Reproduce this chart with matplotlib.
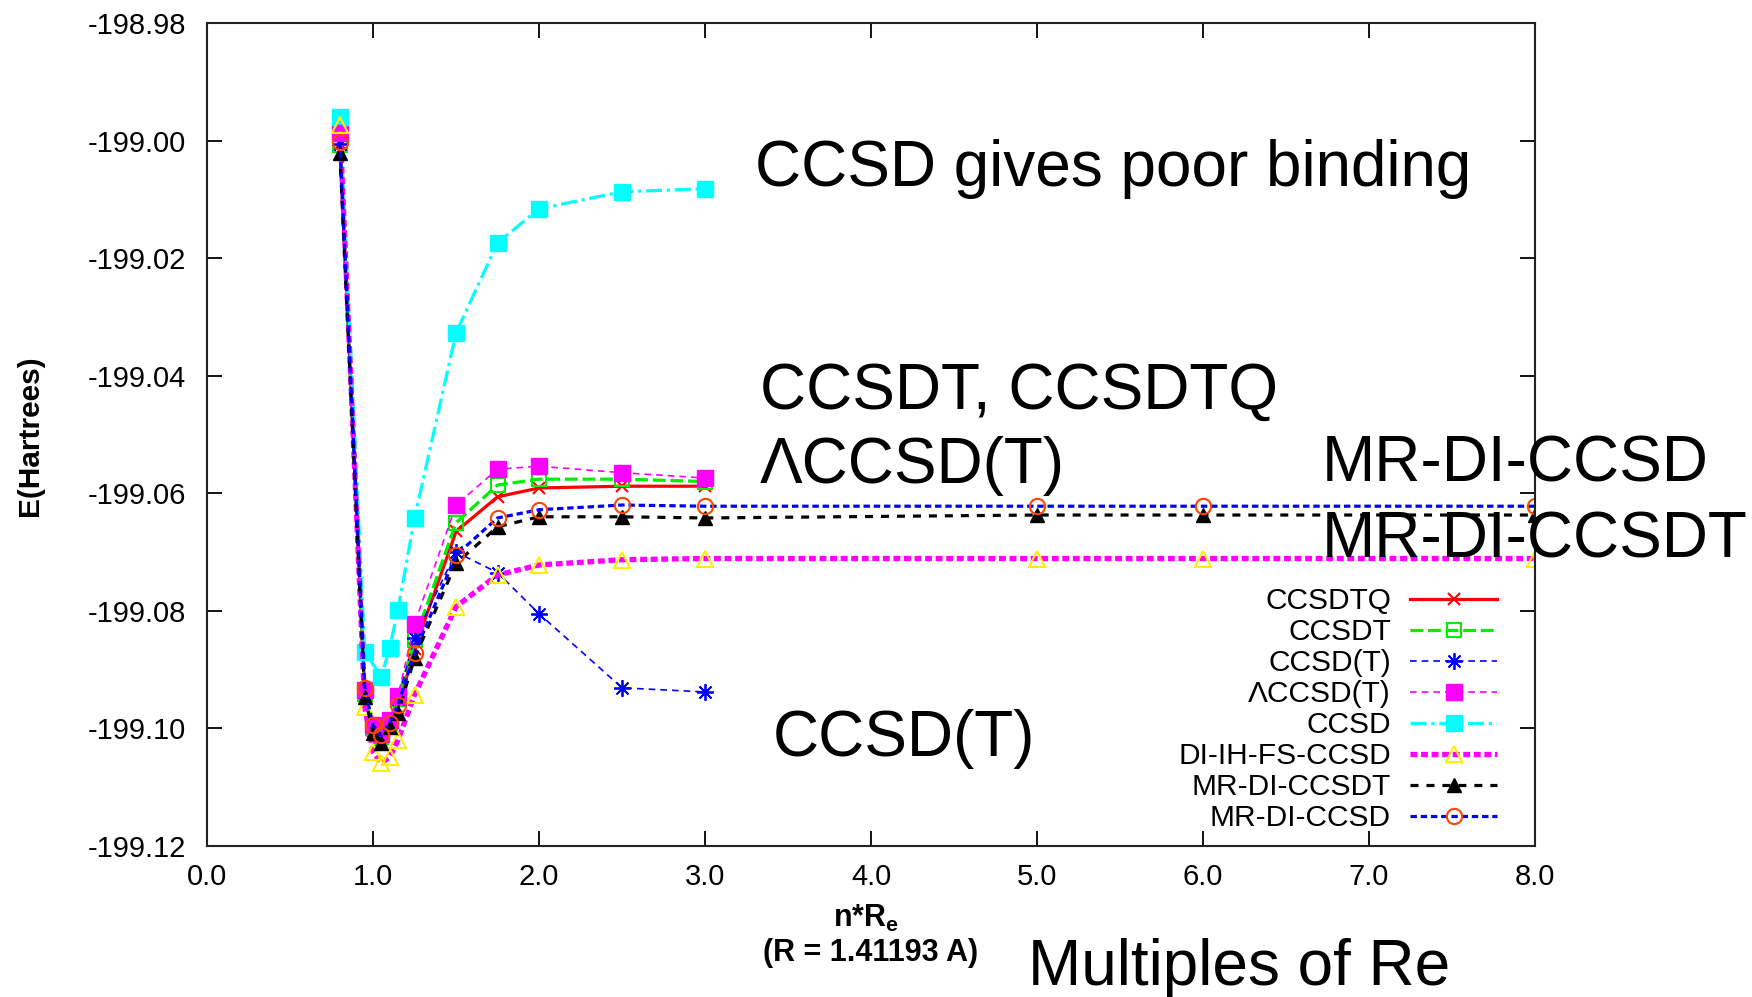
import matplotlib
matplotlib.use("Agg")
import matplotlib.pyplot as plt

plt.rcParams['font.family'] = ['Liberation Sans', 'DejaVu Sans']
plt.rcParams['mathtext.fontset'] = 'custom'
plt.rcParams['mathtext.rm'] = 'Liberation Sans'
plt.rcParams['mathtext.bf'] = 'Liberation Sans:bold'

# bond stretch as multiples of Re
x_short = [0.8, 0.95, 1.0, 1.05, 1.1, 1.15, 1.25, 1.5, 1.75, 2.0, 2.5, 3.0]
x_ccsd = [0.8, 0.95, 1.05, 1.1, 1.15, 1.25, 1.5, 1.75, 2.0, 2.5, 3.0]
x_long = [0.8, 0.95, 1.0, 1.05, 1.1, 1.15, 1.25, 1.5, 1.75, 2.0, 2.5, 3.0, 5.0, 6.0, 8.0]

# energies (Hartrees)
e_ccsdtq = [-199.0005, -199.0945, -199.1005, -199.1020, -199.0995, -199.0965, -199.0865,
            -199.0665, -199.0606, -199.0591, -199.0588, -199.0588]
e_ccsdt = [-199.0007, -199.0942, -199.1000, -199.1015, -199.0990, -199.0950, -199.0850,
           -199.0650, -199.0586, -199.0576, -199.0576, -199.0580]
e_ccsd_t = [-199.0005, -199.0940, -199.0998, -199.1012, -199.0985, -199.0950, -199.0846,
            -199.0700, -199.0735, -199.0805, -199.0931, -199.0938]
e_lccsd_t = [-198.9987, -199.0935, -199.0995, -199.1010, -199.0985, -199.0945, -199.0822,
             -199.0620, -199.0559, -199.0554, -199.0565, -199.0574]
e_ccsd = [-198.9960, -199.0870, -199.0912, -199.0863, -199.0798, -199.0642, -199.0327,
          -199.0174, -199.0116, -199.0087, -199.0082]
e_di_ih = [-198.9973, -199.0963, -199.1040, -199.1059, -199.1049, -199.1020, -199.0943,
           -199.0793, -199.0739, -199.0722, -199.0713, -199.0711, -199.0711, -199.0711, -199.0711]
e_mr_ccsdt = [-199.0021, -199.0946, -199.1008, -199.1025, -199.0997, -199.0974, -199.0880,
              -199.0719, -199.0657, -199.0640, -199.0640, -199.0642, -199.0637, -199.0637, -199.0637]
e_mr_ccsd = [-199.0002, -199.0931, -199.0995, -199.1012, -199.0990, -199.0960, -199.0872,
             -199.0705, -199.0642, -199.0628, -199.0620, -199.0622, -199.0622, -199.0622, -199.0622]

y_ticks = [-199.12, -199.10, -199.08, -199.06, -199.04, -199.02, -199.00, -198.98]
x_ticks = [0, 1, 2, 3, 4, 5, 6, 7, 8]

fig = plt.figure(figsize=(17.52, 9.97), dpi=100)
ax = fig.add_axes([0.1182, 0.1515, 0.7579, 0.8254])

ax.plot(x_short, e_ccsdtq, color='#ff0000', lw=2.3, marker='x', ms=9, mew=1.5,
        label='CCSDTQ')
ax.plot(x_short, e_ccsdt, color='#00ee00', lw=2.3, dashes=(4, 1.5), marker='s', ms=10,
        mfc='none', mec='#00ee00', mew=1.5, label='CCSDT')
ax.plot(x_short, e_ccsd_t, color='#0000ff', lw=1.2, dashes=(4, 3), marker=(8, 2, 0), ms=12,
        mew=1.3, label='CCSD(T)')
ax.plot(x_short, e_lccsd_t, color='#ff00ff', lw=1.2, dashes=(4, 3), marker='s', ms=12,
        label='\u039bCCSD(T)')
ax.plot(x_ccsd, e_ccsd, color='#00ffff', lw=2.3, dashes=(5, 1.5, 1, 1.5), marker='s', ms=12,
        label='CCSD')
ax.plot(x_long, e_di_ih, color='#ff00ff', lw=3.8, dashes=(1.3, 0.7), marker='^', ms=11,
        mfc='none', mec='#ffee00', mew=1.5, label='DI-IH-FS-CCSD')
ax.plot(x_long, e_mr_ccsdt, color='black', lw=2.3, dashes=(2.5, 2.5), marker='^', ms=10,
        label='MR-DI-CCSDT')
ax.plot(x_long, e_mr_ccsd, color='#0000ff', lw=2.3, dashes=(2, 1.2), marker='o', ms=11,
        mfc='none', mec='#ff4500', mew=1.5, label='MR-DI-CCSD')

ax.set_xlim(0, 8)
ax.set_ylim(-199.12, -198.98)
ax.set_xticks(x_ticks)
ax.set_xticklabels(['%.1f' % v for v in x_ticks])
ax.set_yticks(y_ticks)
ax.set_yticklabels(['%.2f' % v for v in y_ticks])
ax.tick_params(direction='in', length=11, width=1.3, top=True, right=True,
               labelsize=21)
ax.tick_params(axis='y', pad=15)
ax.tick_params(axis='x', pad=12)
for sp in ax.spines.values():
    sp.set_linewidth(1.5)
    sp.set_color('#222222')

leg = ax.legend(loc='lower right', bbox_to_anchor=(0.9714, 0.017), frameon=False,
                markerfirst=False, numpoints=1, fontsize=21.5, handlelength=2.9,
                handletextpad=0.65, labelspacing=0.1, borderpad=0, borderaxespad=0)

# axis labels
fig.text(30 / 1752, 1 - 436 / 997, 'E(Hartrees)', rotation=90, fontsize=21.5,
         fontweight='bold', ha='center', va='center')
fig.text(866 / 1752, 1 - 918 / 997, r'n*R$_\mathbf{e}$', fontsize=22, fontweight='bold',
         ha='center', va='center')
fig.text(871 / 1752, 1 - 953 / 997, '(R = 1.41193 A)', fontsize=22, fontweight='bold',
         ha='center', va='center')

# annotations
big = 46
fig.text(755 / 1752, 1 - 169 / 997, 'CCSD gives poor binding', fontsize=big, va='center')
fig.text(760 / 1752, 1 - 392 / 997, 'CCSDT, CCSDTQ', fontsize=big, va='center')
fig.text(760 / 1752, 1 - 466 / 997, '\u039bCCSD(T)', fontsize=big, va='center')
fig.text(1322 / 1752, 1 - 464 / 997, 'MR-DI-CCSD', fontsize=big, va='center')
fig.text(1322 / 1752, 1 - 541 / 997, 'MR-DI-CCSDT', fontsize=big, va='center')
fig.text(773 / 1752, 1 - 739 / 997, 'CCSD(T)', fontsize=big, va='center')
fig.text(1028 / 1752, 1 - 968 / 997, 'Multiples of Re', fontsize=big, va='center')

fig.savefig('out.png', dpi=100)
